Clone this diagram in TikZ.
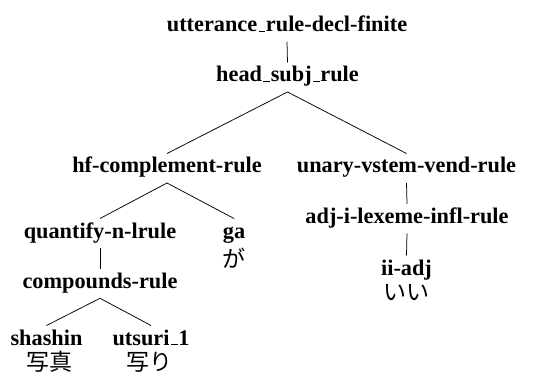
\documentclass[tikz,border=0pt]{standalone}
\usepackage{fontspec}
\setmainfont{Liberation Serif}
\newfontfamily\jpfont{Noto Sans CJK JP}
\newcommand{\myus}{\kern.06em\rule{.3em}{0.9pt}\kern.03em}
\begin{document}
\begin{tikzpicture}[x=1pt,y=-1pt,
  lbl/.style={anchor=base,inner sep=0pt,font=\fontsize{22.3}{26}\selectfont\bfseries},
  jp/.style={anchor=center,inner sep=0pt,font=\fontsize{23}{27}\selectfont\jpfont},
  edge/.style={line width=0.75pt}]
\useasboundingbox (0,0) rectangle (546,374);
\node[lbl] (utt) at (287,31.7) {utterance\myus rule-decl-finite};
\node[lbl] (head) at (287.5,82) {head\myus subj\myus rule};
\node[lbl] (hf) at (167,173) {hf-complement-rule};
\node[lbl] (unary) at (406.5,173) {unary-vstem-vend-rule};
\node[lbl] (quant) at (100,238) {quantify-n-lrule};
\node[lbl] (ga) at (234,238) {ga};
\node[jp] (gajp) at (234,258.5) {が};
\node[lbl] (adj) at (407,223.3) {adj-i-lexeme-infl-rule};
\node[lbl] (ii) at (406.5,275) {ii-adj};
\node[jp] (iijp) at (406.5,293) {いい};
\node[lbl] (comp) at (100,288.3) {compounds-rule};
\node[lbl] (shashin) at (46.5,345) {shashin};
\node[jp] (shashinjp) at (49.5,362) {写真};
\node[lbl] (utsuri) at (151,345) {utsuri\myus 1};
\node[jp] (utsurijp) at (149.5,362) {写り};
\draw[edge] ([yshift=-10pt]utt.base) -- ([yshift=19.5pt]head.base);
\draw[edge] ([yshift=-10pt]head.base) -- ([yshift=19.5pt]hf.base);
\draw[edge] ([yshift=-10pt]head.base) -- ([yshift=19.5pt]unary.base);
\draw[edge] ([yshift=-10pt]hf.base) -- ([yshift=19.5pt]quant.base);
\draw[edge] ([yshift=-10pt]hf.base) -- ([yshift=19.5pt]ga.base);
\draw[edge] ([yshift=-10pt]unary.base) -- ([yshift=19.5pt]adj.base);
\draw[edge] ([yshift=-10pt]adj.base) -- ([yshift=19.5pt]ii.base);
\draw[edge] ([yshift=-9.5pt]quant.base) -- ([yshift=19.5pt]comp.base);
\draw[edge] ([yshift=-10pt]comp.base) -- ([yshift=19.5pt]shashin.base);
\draw[edge] ([yshift=-10pt]comp.base) -- ([yshift=19.5pt]utsuri.base);
\end{tikzpicture}
\end{document}
